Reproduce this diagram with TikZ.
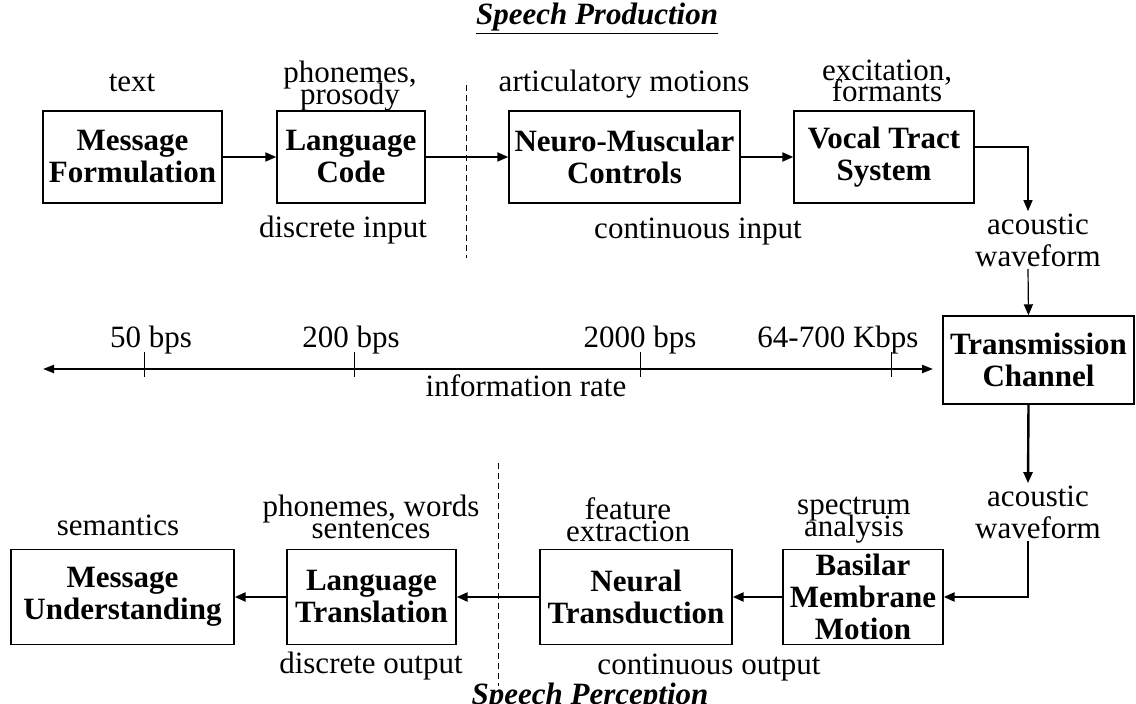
\documentclass[tikz,border=0pt]{standalone}
\usepackage{fontspec}
\setmainfont{Liberation Serif}
\usetikzlibrary{arrows.meta,positioning}

\begin{document}
\lineskiplimit=-100pt\relax
\begin{tikzpicture}[x=0.5pt,y=-0.5pt,
  font=\fontsize{15.5}{16}\selectfont,
  blk/.style={draw,line width=0.7pt,inner sep=0pt,align=center,
    font=\fontsize{15.5}{16}\selectfont\bfseries},
  lbl/.style={inner sep=1pt,align=center,font=\fontsize{15.5}{10.8}\selectfont},
  lblw/.style={inner sep=1pt,align=center,font=\fontsize{15.5}{16}\selectfont},
  tip/.style={-{Triangle[length=5.5pt,width=4.5pt]}},
  arr/.style={tip,line width=1pt},
  arrb/.style={tip,line width=1.2pt},
  thinarr/.style={tip,line width=0.6pt},
  tick/.style={line width=0.5pt},
  sep/.style={dashed,dash pattern=on 3pt off 2pt,line width=0.5pt}]
\useasboundingbox (0,0) rectangle (1136,704);

% titles
\node (prod) at (597,19) {\underline{\textbf{\textit{Speech Production}}}};
\node[anchor=base] (perc) at (590,705) {\textbf{\textit{Speech Perception}}};

% production chain
\node[blk,minimum width=89.5pt,minimum height=46pt] (mf) at (132.5,157) {Message\\Formulation};
\node[blk,minimum width=74pt,minimum height=46pt] (lc) at (351,157) {Language\\Code};
\node[blk,minimum width=115.5pt,minimum height=46pt] (nm) at (624.5,157) {Neuro-Muscular\\Controls};
\node[blk,minimum width=90pt,minimum height=46pt] (vt) at (884,157) {Vocal Tract\\System};
\node[blk,minimum width=95.5pt,minimum height=44pt] (tc) at (1038.5,360) {Transmission\\Channel};

\node[lbl] (txt) at (132,83) {text};
\node[lbl] (php) at (350,86) {phonemes,\\prosody};
\node[lbl] (art) at (624,84) {articulatory motions};
\node[lbl] (exf) at (887,81) {excitation,\\formants};
\node[lbl] (din) at (343,230) {discrete input};
\node[lbl] (cin) at (698,232) {continuous input};
\node[lblw] (aw1) at (1038,240) {acoustic\\waveform};

\draw[sep] (466,85) -- (466,258);

\draw[arr] (mf) -- (lc);
\draw[arr] (lc) -- (nm);
\draw[arr] (nm) -- (vt);
\draw[thinarr] ([yshift=5pt]vt.east) -| ([xshift=-5pt]aw1.north);
\draw[thinarr] ([xshift=-5pt]aw1.south) -- ([xshift=-5pt]tc.north);

% information rate
\coordinate (rl) at (43,369);
\coordinate (rr) at (933,369);
\draw[line width=1pt,{Triangle[length=5.5pt,width=4pt]}-{Triangle[length=5.5pt,width=4pt]}] (rl) -- (rr);
\foreach \x/\lx/\lab [count=\i] in {144/151/50 bps,354/351/200 bps,640/640/2000 bps,891/838/64-700 Kbps}{
  \draw[tick] (\x,352) -- (\x,377);
  \node[lbl] (bps\i) at (\lx,340) {\lab};
}
\node[lbl] (irate) at (526,386) {information rate};

% perception chain
\node[blk,minimum width=111.5pt,minimum height=47.5pt] (mu) at (122.5,597) {Message\\Understanding};
\node[blk,minimum width=84.5pt,minimum height=47.5pt] (lt) at (371.5,597) {Language\\Translation};
\node[blk,minimum width=96pt,minimum height=47.5pt] (nt) at (636,597) {Neural\\Transduction};
\node[blk,minimum width=80pt,minimum height=47.5pt] (bm) at (863,597) {Basilar\\Membrane\\Motion};

\node[lblw] (aw2) at (1038,512) {acoustic\\waveform};
\node[lbl] (sem) at (118,525) {semantics};
\node[lbl] (pws) at (371,517) {phonemes, words\\sentences};
\node[lbl] (fex) at (628,520) {feature\\extraction};
\node[lbl] (spa) at (854,520) {spectrum\\analysis};
\node[lbl] (dout) at (371,666) {discrete output};
\node[lbl] (cout) at (709,668) {continuous output};

\draw[sep] (498,463) -- (498,686);

\draw[arrb] ([xshift=-5pt]tc.south) -- ([xshift=-5pt]aw2.north);
\draw[arrb] ([xshift=-5pt]aw2.south) |- (bm.east);
\draw[arrb] (bm) -- (nt);
\draw[arrb] (nt) -- (lt);
\draw[arrb] (lt) -- (mu);
\end{tikzpicture}
\end{document}
